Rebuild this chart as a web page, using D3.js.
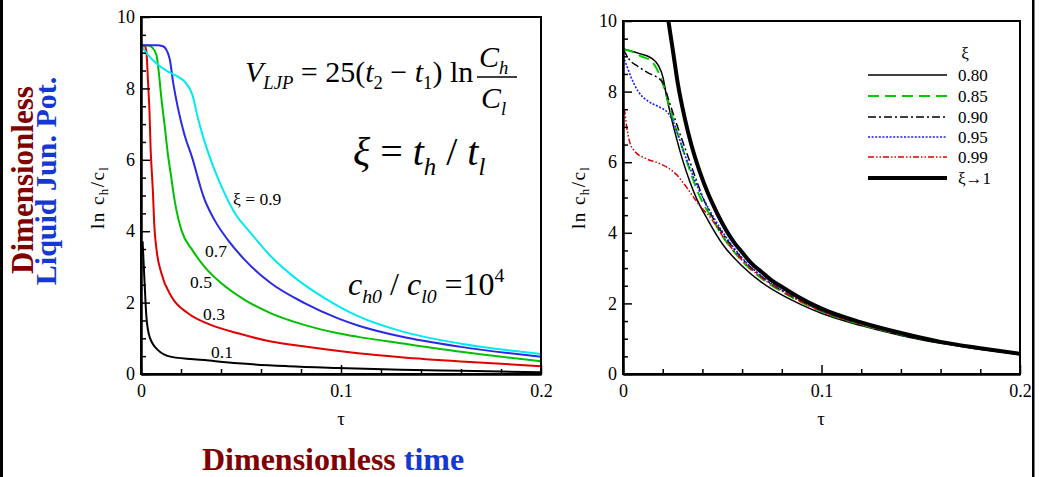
<!DOCTYPE html>
<html><head><meta charset="utf-8">
<script src="https://cdn.jsdelivr.net/npm/d3@7"></script>
<style>
html,body{margin:0;padding:0;background:#fff;}
svg{display:block;}
text{font-family:"Liberation Serif","Times New Roman",serif;fill:#000;}
</style></head><body>
<svg id="c" width="1039" height="477"></svg>
<script>
// ---------- data ----------
const xTickValues = [0, 0.1, 0.2];
const xTickLabels = ["0", "0.1", "0.2"];
const xMinorValues = [0.02, 0.04, 0.06, 0.08, 0.12, 0.14, 0.16, 0.18];
const yTickValues = [0, 2, 4, 6, 8, 10];
const yTickLabels = ["0", "2", "4", "6", "8", "10"];
const yMinorValues = [0.5, 1, 1.5, 2.5, 3, 3.5, 4.5, 5, 5.5, 6.5, 7, 7.5, 8.5, 9, 9.5];

// left panel: xi = 0.1, 0.3, 0.5, 0.7, 0.9
const leftNames = ["0.1", "0.3", "0.5", "0.7", "0.9"];
const tauL01 = [0.0008, 0.0018, 0.0027, 0.0043, 0.0085, 0.0152, 0.0318, 0.0485, 0.0735, 0.0985, 0.13, 0.16, 0.2];
const valL01 = [3.72, 2.54, 1.60, 1.04, 0.67, 0.48, 0.39, 0.30, 0.22, 0.17, 0.12, 0.09, 0.05];
const tauL03 = [0, 0.002, 0.0027, 0.0035, 0.0043, 0.0048, 0.0055, 0.006, 0.0066, 0.0078, 0.0102, 0.0152, 0.0235, 0.0352, 0.0485, 0.065, 0.082, 0.1085, 0.13, 0.16, 0.2];
const valL03 = [9.21, 9.18, 9.03, 8.19, 7.26, 6.32, 5.57, 5.05, 4.22, 3.47, 2.82, 2.17, 1.70, 1.37, 1.14, 0.91, 0.77, 0.58, 0.47, 0.35, 0.22];
const tauL05 = [0, 0.004, 0.0055, 0.0077, 0.0088, 0.0102, 0.0118, 0.0135, 0.0152, 0.016, 0.0177, 0.0202, 0.0257, 0.0318, 0.0402, 0.052, 0.065, 0.082, 0.0985, 0.1085, 0.13, 0.16, 0.2];
const valL05 = [9.21, 9.20, 9.15, 8.94, 8.50, 7.72, 6.97, 6.13, 5.48, 5.15, 4.59, 4.03, 3.47, 3.00, 2.54, 2.07, 1.70, 1.37, 1.14, 1.04, 0.86, 0.62, 0.36];
const tauL07 = [0, 0.008, 0.011, 0.0143, 0.016, 0.0185, 0.0218, 0.0257, 0.0285, 0.031, 0.0368, 0.0435, 0.052, 0.065, 0.082, 0.0985, 0.1085, 0.13, 0.16, 0.2];
const valL07 = [9.21, 9.21, 9.18, 8.84, 8.19, 7.44, 6.69, 6.04, 5.48, 5.01, 4.31, 3.75, 3.19, 2.54, 1.98, 1.56, 1.36, 1.05, 0.76, 0.48];
const tauL09 = [0, 0.0035, 0.0085, 0.0135, 0.0185, 0.0218, 0.0257, 0.0285, 0.0318, 0.0352, 0.0385, 0.0418, 0.047, 0.055, 0.065, 0.0785, 0.092, 0.1085, 0.13, 0.16, 0.2];
const valL09 = [9.21, 8.94, 8.66, 8.47, 8.33, 8.19, 7.82, 7.16, 6.51, 5.95, 5.48, 5.06, 4.50, 3.94, 3.29, 2.63, 2.12, 1.62, 1.20, 0.85, 0.56];
const leftColors = ["#000000", "#e00000", "#00c000", "#2a2ae6", "#00eaf0"];

// right panel: xi = 0.80, 0.85, 0.90, 0.95, 0.99, ->1
const rightNames = ["0.80", "0.85", "0.90", "0.95", "0.99", "\u03BE\u21921"];
const tauR080 = [0, 0.0076, 0.0143, 0.0176, 0.0202, 0.0218, 0.0244, 0.0269, 0.0302, 0.0336, 0.0369, 0.0428, 0.045, 0.05, 0.06, 0.07, 0.08, 0.09, 0.1, 0.12, 0.14, 0.16, 0.18, 0.2];
const valR080 = [9.21, 9.09, 8.95, 8.76, 8.39, 7.91, 7.25, 6.69, 6.03, 5.46, 4.99, 4.36, 4.14, 3.69, 3.06, 2.59, 2.24, 1.96, 1.72, 1.37, 1.09, 0.87, 0.70, 0.55];
const tauR085 = [0, 0.0042, 0.0092, 0.0143, 0.0176, 0.0202, 0.0227, 0.026, 0.0294, 0.0327, 0.0369, 0.0395, 0.045, 0.05, 0.06, 0.07, 0.08, 0.09, 0.1, 0.12, 0.14, 0.16, 0.18, 0.2];
const valR085 = [9.21, 9.14, 9.00, 8.86, 8.58, 8.20, 7.73, 7.06, 6.50, 5.93, 5.27, 4.93, 4.40, 3.92, 3.20, 2.70, 2.33, 2.03, 1.77, 1.40, 1.12, 0.89, 0.71, 0.56];
const tauR090 = [0, 0.0033, 0.0076, 0.0126, 0.0176, 0.0202, 0.0227, 0.026, 0.0294, 0.0336, 0.0378, 0.0403, 0.045, 0.05, 0.06, 0.07, 0.08, 0.09, 0.1, 0.12, 0.14, 0.16, 0.18, 0.2];
const valR090 = [9.21, 8.90, 8.71, 8.53, 8.39, 8.24, 7.82, 7.25, 6.69, 6.03, 5.36, 4.99, 4.45, 4.00, 3.27, 2.75, 2.37, 2.06, 1.79, 1.42, 1.13, 0.90, 0.72, 0.56];
const tauR095 = [0, 0.0017, 0.0042, 0.0076, 0.0126, 0.0176, 0.0227, 0.0252, 0.0277, 0.0311, 0.0344, 0.0378, 0.0403, 0.045, 0.05, 0.06, 0.07, 0.08, 0.09, 0.1, 0.12, 0.14, 0.16, 0.18, 0.2];
const valR095 = [9.00, 8.76, 8.39, 8.01, 7.73, 7.58, 7.39, 7.16, 6.78, 6.21, 5.74, 5.27, 4.99, 4.50, 4.04, 3.29, 2.76, 2.38, 2.07, 1.80, 1.43, 1.14, 0.90, 0.72, 0.56];
const tauR099 = [0, 0.0008, 0.0017, 0.0033, 0.0059, 0.0109, 0.0176, 0.0227, 0.0269, 0.0311, 0.0344, 0.038, 0.045, 0.05, 0.06, 0.07, 0.08, 0.09, 0.1, 0.12, 0.14, 0.16, 0.18, 0.2];
const valR099 = [7.50, 7.44, 7.06, 6.59, 6.31, 6.12, 5.98, 5.84, 5.65, 5.36, 5.10, 4.82, 4.36, 3.92, 3.22, 2.72, 2.35, 2.04, 1.78, 1.41, 1.13, 0.90, 0.72, 0.56];
const tauR1 = [0.0215, 0.0227, 0.0252, 0.0277, 0.0311, 0.0344, 0.0386, 0.0428, 0.045, 0.05, 0.0563, 0.06, 0.0646, 0.07, 0.0747, 0.08, 0.0882, 0.1, 0.12, 0.14, 0.16, 0.18, 0.2];
const valR1 = [10.60, 10.08, 9.14, 8.20, 7.25, 6.50, 5.74, 5.12, 4.84, 4.27, 3.70, 3.45, 3.14, 2.88, 2.66, 2.47, 2.19, 1.85, 1.46, 1.16, 0.91, 0.73, 0.57];
const rightColors = ["#000000", "#00cc00", "#000000", "#1a1aff", "#dd0000", "#000000"];
const rightDash = ["", "11,6", "8,3,2,3", "2,1.6", "6,2,1.5,2,1.5,2", ""];
const rightWidth = [1.5, 2, 1.5, 1.6, 1.5, 4];

// ---------- drawing ----------
const svg = d3.select("#c");
const FONT = '"Liberation Serif","Times New Roman",serif';

svg.append("rect").attr("x", 0).attr("y", 0).attr("width", 3).attr("height", 477).attr("fill", "#000");
svg.append("rect").attr("x", 1032).attr("y", 0).attr("width", 2.5).attr("height", 477).attr("fill", "#000");

function zip(t, v) { return t.map((d, i) => [d, v[i]]); }

function panel(id, x0, x1, yTop, yBot, series) {
  const x = d3.scaleLinear().domain([0, 0.2]).range([x0, x1]);
  const y = d3.scaleLinear().domain([0, 10]).range([yBot, yTop]);
  const g = svg.append("g");
  svg.append("clipPath").attr("id", id).append("rect")
    .attr("x", x0).attr("y", yTop).attr("width", x1 - x0).attr("height", yBot - yTop);
  const line = d3.line().x(d => x(d[0])).y(d => y(d[1])).curve(d3.curveMonotoneX);
  const lg = g.append("g").attr("clip-path", `url(#${id})`);
  series.forEach(s => {
    lg.append("path").attr("d", line(s.data)).attr("fill", "none")
      .attr("stroke", s.color).attr("stroke-width", s.width)
      .attr("stroke-dasharray", s.dash || null)
      .attr("stroke-linejoin", "round");
  });
  g.append("rect").attr("x", x0).attr("y", yTop).attr("width", x1 - x0).attr("height", yBot - yTop)
    .attr("fill", "none").attr("stroke", "#000").attr("stroke-width", 2);
  const xa = d3.axisBottom(x).tickValues(xTickValues).tickFormat((d, i) => xTickLabels[i])
    .tickSizeInner(-9).tickSizeOuter(0).tickPadding(10);
  const xm = d3.axisBottom(x).tickValues(xMinorValues).tickFormat("").tickSizeInner(-5).tickSizeOuter(0);
  const ya = d3.axisLeft(y).tickValues(yTickValues).tickFormat((d, i) => yTickLabels[i])
    .tickSizeInner(-9).tickSizeOuter(0).tickPadding(6);
  const ym = d3.axisLeft(y).tickValues(yMinorValues).tickFormat("").tickSizeInner(-5).tickSizeOuter(0);
  [[xa, `translate(0,${yBot})`], [xm, `translate(0,${yBot})`], [ya, `translate(${x0},0)`], [ym, `translate(${x0},0)`]].forEach(([ax, tr]) => {
    const a = g.append("g").attr("transform", tr).call(ax);
    a.attr("font-family", null);
    a.selectAll("path").attr("stroke", "#000").attr("stroke-width", 2);
    a.selectAll("line").attr("stroke", "#000").attr("stroke-width", 1.5);
    a.selectAll("text").style("font-family", FONT).attr("font-size", 18).attr("fill", "#000");
  });
  return { x, y, g };
}

const L = panel("clipL", 141, 541, 17, 374, [
  { data: zip(tauL01, valL01), color: leftColors[0], width: 2 },
  { data: zip(tauL03, valL03), color: leftColors[1], width: 2 },
  { data: zip(tauL05, valL05), color: leftColors[2], width: 2 },
  { data: zip(tauL07, valL07), color: leftColors[3], width: 2 },
  { data: zip(tauL09, valL09), color: leftColors[4], width: 2 }
]);
const rightData = [zip(tauR080, valR080), zip(tauR085, valR085), zip(tauR090, valR090), zip(tauR095, valR095), zip(tauR099, valR099), zip(tauR1, valR1)];
const R = panel("clipR", 623, 1020, 21, 374, rightData.map((d, i) => ({
  data: d, color: rightColors[i], width: rightWidth[i], dash: rightDash[i]
})));

function yTitle(xb, yc) {
  const t = svg.append("text").attr("transform", `translate(${xb},${yc}) rotate(-90)`)
    .attr("text-anchor", "middle").attr("font-size", 19)
    .attr("textLength", 62).attr("lengthAdjust", "spacing");
  t.append("tspan").text("ln c");
  t.append("tspan").attr("font-size", 13).attr("dy", 4).text("h");
  t.append("tspan").attr("dy", -4).text("/c");
  t.append("tspan").attr("font-size", 13).attr("dy", 4).text("l");
}
yTitle(104, 198);
yTitle(585, 198);
svg.append("text").attr("x", 341).attr("y", 425).attr("text-anchor", "middle").attr("font-size", 19).text("\u03C4");
svg.append("text").attr("x", 821).attr("y", 425).attr("text-anchor", "middle").attr("font-size", 19).text("\u03C4");

const labelPos = [[211, 358, "0.1"], [203, 320, "0.3"], [190, 288, "0.5"], [205, 257, "0.7"], [233, 205, "\u03BE = 0.9"]];
labelPos.forEach(p => svg.append("text").attr("x", p[0]).attr("y", p[1]).attr("font-size", 17.5).text(p[2]));

svg.append("text").attr("x", 965).attr("y", 59).attr("text-anchor", "middle").attr("font-size", 17).text("\u03BE");
const legY = [75, 96, 117, 137, 157, 178];
rightNames.forEach((n, i) => {
  svg.append("line").attr("x1", 868).attr("x2", 947).attr("y1", legY[i]).attr("y2", legY[i])
    .attr("stroke", rightColors[i]).attr("stroke-width", rightWidth[i])
    .attr("stroke-dasharray", rightDash[i] || null);
  svg.append("text").attr("x", 958).attr("y", legY[i] + 6).attr("font-size", 17).text(n);
});

function rich(x, y, size, parts) {
  const t = svg.append("text").attr("x", x).attr("y", y).attr("font-size", size);
  let shift = 0;
  parts.forEach(p => {
    const sp = t.append("tspan").text(p.t);
    if (p.i) sp.attr("font-style", "italic");
    let target = 0;
    if (p.sub) { sp.attr("font-size", size * 0.62); target = size * 0.24; }
    if (p.sup) { sp.attr("font-size", size * 0.62); target = -size * 0.42; }
    if (target !== shift) { sp.attr("dy", target - shift); shift = target; }
  });
  return t;
}
rich(245, 82, 30, [
  { t: "V", i: 1 }, { t: "LJP", i: 1, sub: 1 }, { t: " = 25(" }, { t: "t", i: 1 }, { t: "2", sub: 1 },
  { t: " \u2212 " }, { t: "t", i: 1 }, { t: "1", sub: 1 }, { t: ") ln" }
]);
rich(479, 67, 30, [{ t: "C", i: 1 }, { t: "h", i: 1, sub: 1 }]);
rich(481, 108, 30, [{ t: "C", i: 1 }, { t: "l", i: 1, sub: 1 }]);
svg.append("line").attr("x1", 477).attr("x2", 517).attr("y1", 77).attr("y2", 77).attr("stroke", "#000").attr("stroke-width", 1.5);
rich(353, 165, 40, [
  { t: "\u03BE", i: 1 }, { t: " = " }, { t: "t", i: 1 }, { t: "h", i: 1, sub: 1 }, { t: " / " }, { t: "t", i: 1 }, { t: "l", i: 1, sub: 1 }
]);
rich(348, 295, 32, [
  { t: "c", i: 1 }, { t: "h0", i: 1, sub: 1 }, { t: " / " }, { t: "c", i: 1 }, { t: "l0", i: 1, sub: 1 }, { t: " =10" }, { t: "4", sup: 1 }
]);

svg.append("text").attr("transform", "translate(33,180) rotate(-90)").attr("text-anchor", "middle")
  .attr("font-size", 31).attr("font-weight", "bold").style("fill", "#800000").text("Dimensionless");
svg.append("text").attr("transform", "translate(56,181) rotate(-90)").attr("text-anchor", "middle")
  .attr("font-size", 30).attr("font-weight", "bold").style("fill", "#1538d4").text("Liquid Jun. Pot.");
const bt = svg.append("text").attr("x", 202).attr("y", 470).attr("font-size", 32).attr("font-weight", "bold");
bt.append("tspan").style("fill", "#800000").text("Dimensionless ");
bt.append("tspan").style("fill", "#1538d4").text("time");
</script>
</body></html>
